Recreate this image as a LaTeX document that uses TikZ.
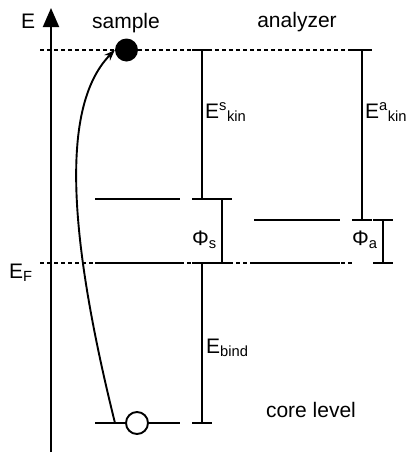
\documentclass[tikz,border=0pt]{standalone}
\usepackage{fontspec}
\setmainfont{Liberation Sans}
\usetikzlibrary{arrows.meta}
\begin{document}
\begin{tikzpicture}[x=1pt,y=-1pt,
  ln/.style={line width=1.9pt},
  lvl/.style={line width=1.9pt},
  dsh/.style={line width=1.9pt,dash pattern=on 4pt off 3pt},
  lab/.style={inner sep=0pt,font=\fontsize{21}{25}\selectfont},
]
\useasboundingbox (0,0) rectangle (406,456);
% energy axis
\coordinate (axb) at (51,452);
\coordinate (axt) at (51,8);
\draw[ln,-{Triangle[length=19pt,width=16pt]}] (axb) -- (axt);
\node[lab,anchor=base west] (lE) at (21,28) {E};
\node[lab,anchor=base] (lsample) at (126,28) {sample};
\node[lab,anchor=base] (lanalyzer) at (297,27) {analyzer};
% vacuum (dashed) level and Fermi level
\coordinate (vl) at (40,50); \coordinate (vr) at (352,50);
\draw[dsh] (vl) -- (vr);
\coordinate (fl) at (40,263); \coordinate (fr) at (352,263);
\draw[dsh] (fl) -- (fr);
\node[lab,anchor=base west] (lEF) at (9,278) {E\textsubscript{F}};
% sample levels
\draw[lvl] (95,199) -- (180,199);
\draw[lvl] (95,263) -- (180,263);
\draw[lvl] (95,423) -- (180,423);
% analyzer levels
\draw[lvl] (254,220) -- (340,220);
\draw[lvl] (254,263) -- (340,263);
% E^s_kin
\draw[ln] (202,50) -- (202,199);
\draw[ln] (192,50) -- (212,50);
\draw[ln] (192,199) -- (212,199);
\node[lab,anchor=base west] (lEs) at (205,118) {E\textsuperscript{s}\textsubscript{kin}};
% Phi_s
\draw[ln] (222,199) -- (222,263);
\draw[ln] (212,199) -- (232,199);
\draw[ln] (212,263) -- (232,263);
\node[lab,anchor=base west] (lPs) at (192,245) {Φ\textsubscript{s}};
% E_bind
\draw[ln] (202,263) -- (202,423);
\draw[ln] (192,263) -- (212,263);
\draw[ln] (192,423) -- (212,423);
\node[lab,anchor=base west] (lEb) at (206,353) {E\textsubscript{bind}};
% E^a_kin
\draw[ln] (362,50) -- (362,220);
\draw[ln] (352,50) -- (372,50);
\draw[ln] (352,220) -- (372,220);
\node[lab,anchor=base west] (lEa) at (365,118) {E\textsuperscript{a}\textsubscript{kin}};
% Phi_a
\draw[ln] (383,220) -- (383,263);
\draw[ln] (373,220) -- (393,220);
\draw[ln] (373,263) -- (393,263);
\node[lab,anchor=base west] (lPa) at (352,245) {Φ\textsubscript{a}};
% core level
\node[lab,anchor=base] (lcore) at (311,417) {core level};
\node[circle,draw,line width=1.9pt,fill=white,minimum size=22pt,inner sep=0pt] (hole) at (137,423) {};
\node[circle,fill=black,minimum size=23pt,inner sep=0pt] (el) at (126.5,50) {};
\coordinate (start) at (115,423);
\draw[ln,-{Stealth[length=11pt,width=8pt]}] (start) .. controls (62,210) and (66,100) .. (el.west);
\end{tikzpicture}
\end{document}
